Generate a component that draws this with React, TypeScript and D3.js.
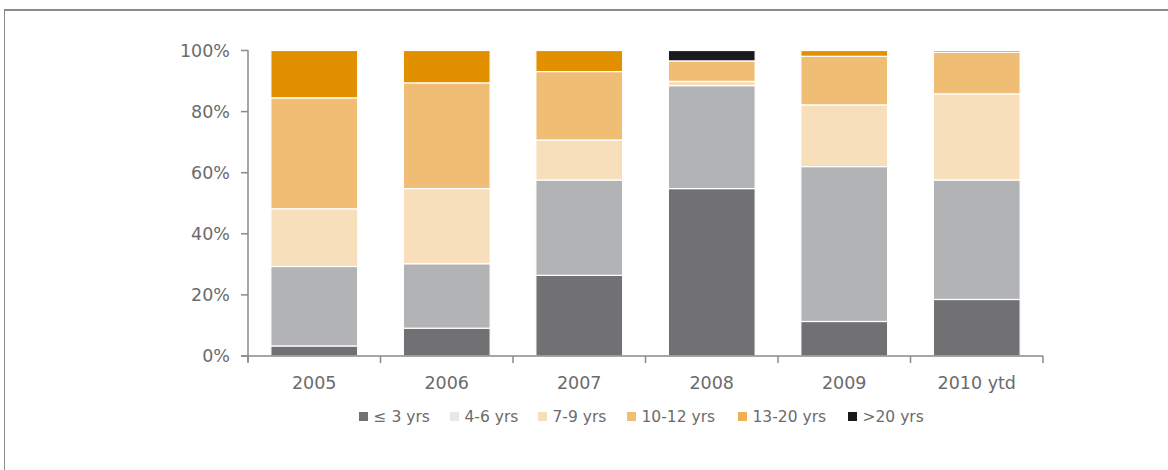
import React from "react";
import * as d3 from "d3";

const categories = ["2005", "2006", "2007", "2008", "2009", "2010 ytd"];
const seriesKeys = ["≤ 3 yrs", "4-6 yrs", "7-9 yrs", "10-12 yrs", "13-20 yrs", ">20 yrs"];
const upTo3 = [3.3, 9.1, 26.4, 54.8, 11.3, 18.5];
const yrs4to6 = [26.0, 21.1, 31.2, 33.7, 50.7, 39.1];
const yrs7to9 = [18.9, 24.6, 13.1, 1.4, 20.2, 28.2];
const yrs10to12 = [36.3, 34.6, 22.4, 6.7, 15.9, 13.6];
const yrs13to20 = [15.5, 10.6, 6.9, 0, 1.9, 0.6];
const over20 = [0, 0, 0, 3.4, 0, 0];
const yTicks = [0, 20, 40, 60, 80, 100];

const barColors = ["#717173", "#b2b3b5", "#f7dfbb", "#f0bd74", "#e28f00", "#1a191d"];
const legendColors = ["#717173", "#e8e8e8", "#f7dfbb", "#f0bd74", "#eeaf55", "#1a191d"];
const legendX = [359, 450, 538, 627, 738, 848];

const allSeries = [upTo3, yrs4to6, yrs7to9, yrs10to12, yrs13to20, over20];

export default function App() {
  const W = 1168, H = 470;
  const left = 248, right = 1043, top = 50.5, bottom = 356;
  const font = "Verdana, 'DejaVu Sans', sans-serif";
  const textColor = "#6b6b6b";
  const axisColor = "#8a8a8a";

  const rows = categories.map((c, i) => {
    const r: any = { cat: c };
    seriesKeys.forEach((k, j) => (r[k] = allSeries[j][i]));
    return r;
  });
  const stacked = d3.stack().keys(seriesKeys)(rows);

  const x = d3.scaleBand().domain(categories).range([left, right]).paddingInner(0.345).paddingOuter(0.1725);
  const y = d3.scaleLinear().domain([0, 100]).range([bottom, top]);
  const step = x.step();
  const boundaries = categories.map((c) => (x(c) as number) - (step * x.paddingInner()) / 2);
  boundaries.push(right);

  return (
    <svg width={W} height={H} style={{ position: "absolute", left: 0, top: 0, background: "#fff" }}>
      <line x1={4} x2={W} y1={10} y2={10} stroke={axisColor} strokeWidth={2} />
      <line x1={4.5} x2={4.5} y1={9} y2={H} stroke={axisColor} strokeWidth={1} />

      {stacked.map((s, j) => (
        <g key={s.key}>
          {s.map((d, i) => {
            const h = y(d[0]) - y(d[1]);
            if (h <= 0) return null;
            return (
              <rect
                key={i}
                x={x(categories[i]) as number}
                y={y(d[1])}
                width={x.bandwidth()}
                height={h}
                fill={barColors[j]}
                stroke="#fff"
                strokeWidth={1.2}
              />
            );
          })}
        </g>
      ))}

      {/* y axis */}
      <line x1={left} x2={left} y1={top - 0.5} y2={bottom + 6} stroke={axisColor} strokeWidth={1.5} />
      {yTicks.map((t) => (
        <g key={t}>
          <line x1={left - 7} x2={left} y1={y(t)} y2={y(t)} stroke={axisColor} strokeWidth={1.5} />
          <text x={left - 18} y={y(t)} dy="0.36em" textAnchor="end" fontFamily={font} fontSize={17.5} fill={textColor}>
            {t}%
          </text>
        </g>
      ))}

      {/* x axis */}
      <line x1={left - 7} x2={right} y1={bottom} y2={bottom} stroke={axisColor} strokeWidth={1.5} />
      {boundaries.map((b, i) => (
        <line key={i} x1={b} x2={b} y1={bottom} y2={bottom + 7} stroke={axisColor} strokeWidth={1.5} />
      ))}
      {categories.map((c) => (
        <text
          key={c}
          x={(x(c) as number) + x.bandwidth() / 2}
          y={383}
          dy="0.36em"
          textAnchor="middle"
          fontFamily={font}
          fontSize={17.5}
          fill={textColor}
        >
          {c}
        </text>
      ))}

      {/* legend */}
      {seriesKeys.map((k, j) => (
        <g key={k} transform={`translate(${legendX[j]},0)`}>
          <rect x={0} y={412} width={9} height={9} fill={legendColors[j]} />
          <text x={14.5} y={416.5} dy="0.36em" fontFamily={font} fontSize={15.5} fill={textColor}>
            {k}
          </text>
        </g>
      ))}
    </svg>
  );
}
